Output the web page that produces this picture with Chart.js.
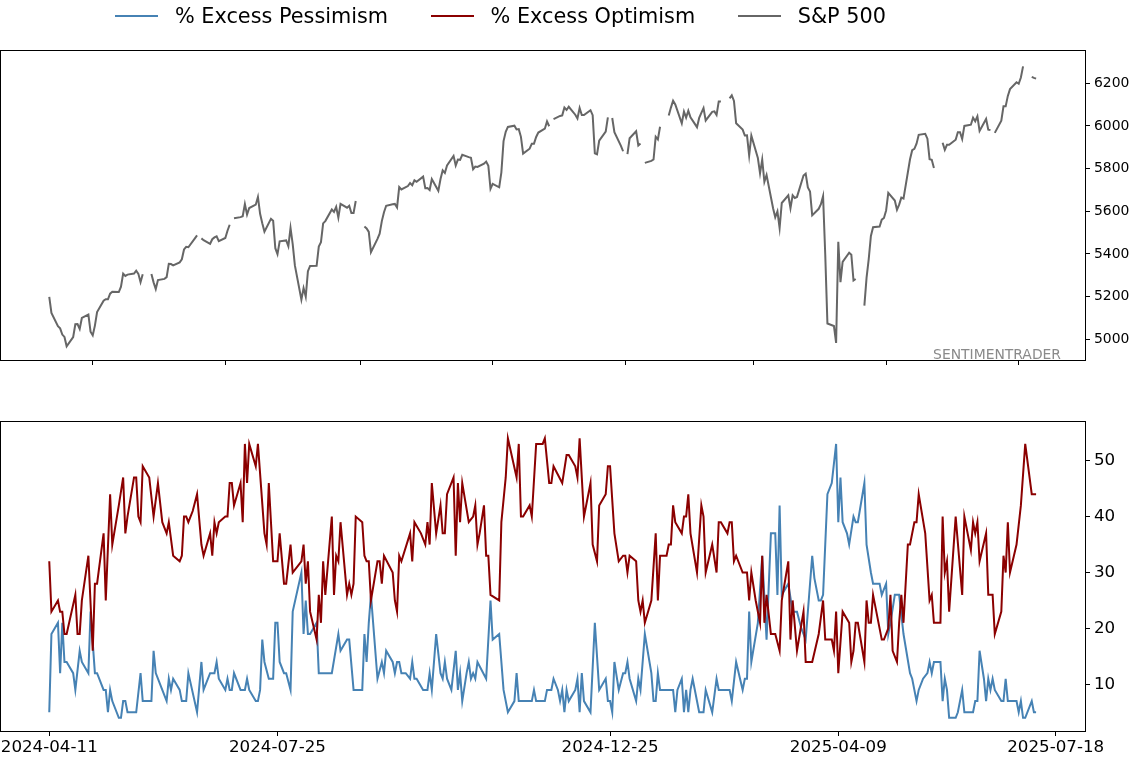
<!DOCTYPE html>
<html>
<head>
<meta charset="utf-8">
<script src="https://cdn.jsdelivr.net/npm/chart.js@4.4.1/dist/chart.umd.min.js"></script>
<style>
  html, body { margin: 0; padding: 0; background: #fff; width: 1129px; height: 759px; overflow: hidden; }
  #topWrap { position: absolute; left: 0; top: 0; width: 1129px; height: 373px; }
  #botWrap { position: absolute; left: 0; top: 380px; width: 1129px; height: 379px; }
  #legend { position: absolute; left: 115px; top: 0; height: 31.4px; display: flex; align-items: center;
            font-family: 'DejaVu Sans', sans-serif; font-size: 20.8px; line-height: 24px; color: #000; white-space: nowrap; z-index: 2; }
  #legend .item { display: flex; align-items: center; margin-right: 42.5px; }
  #legend .swatch { width: 43.3px; height: 2px; margin-right: 16.7px; }
  canvas { display: block; }
</style>
</head>
<body>
<div id="legend"></div>
<div id="topWrap"><canvas id="topChart" width="1129" height="373"></canvas></div>
<div id="botWrap"><canvas id="botChart" width="1129" height="379"></canvas></div>
<script>
// ---------------- DATA ----------------
const START_DATE = '2024-04-11';
const END_DATE = '2025-07-09';

// S&P 500 close for every weekday from START_DATE to END_DATE (null = market holiday)
const spxClose = [
  // Apr 2024
  5199.06, 5123.41, 5061.82, 5051.41, 5022.21, 5011.12, 4967.23, 5010.60, 5070.55, 5071.63, 5048.42, 5099.96, 5116.17, 5035.69,
  // May 2024
  5018.39, 5064.20, 5127.79, 5180.74, 5187.70, 5187.67, 5214.08, 5222.68, 5221.42, 5246.68, 5308.15, 5297.10, 5303.27,
  5308.13, 5321.41, 5307.01, 5267.84, 5304.72, null, 5306.04, 5266.95, 5235.48, 5277.51,
  // Jun 2024
  5283.40, 5291.34, 5354.03, 5352.96, 5346.99, 5360.79, 5375.32, 5421.03, 5433.74, 5431.60,
  5473.23, 5487.03, null, 5473.17, 5464.62, 5447.87, 5469.30, 5477.90, 5482.87, 5460.48,
  // Jul 2024
  5475.09, 5509.01, 5537.02, null, 5567.19, 5572.85, 5576.98, 5633.91, 5584.54, 5615.35, 5631.22, 5667.20,
  5588.27, 5544.59, 5505.00, 5564.41, 5555.74, 5427.13, 5399.22, 5459.10, 5463.54, 5436.44, 5522.30,
  // Aug 2024
  5446.68, 5346.56, 5186.33, 5240.03, 5199.50, 5319.31, 5344.16, 5344.39, 5434.43, 5455.21, 5543.22,
  5554.25, 5608.25, 5597.12, 5620.85, 5570.64, 5634.61, 5616.84, 5625.80, 5592.18, 5591.96, 5648.40,
  // Sep 2024
  null, 5528.93, 5520.07, 5503.41, 5408.42, 5471.05, 5495.52, 5554.13, 5595.76, 5626.02, 5633.09,
  5634.58, 5618.26, 5713.64, 5702.55, 5718.57, 5732.93, 5722.26, 5745.37, 5738.17, 5762.48,
  // Oct 2024
  5708.75, 5709.54, 5699.94, 5751.07, 5695.94, 5751.13, 5792.04, 5780.05, 5815.03, 5859.85, 5815.26, 5842.47,
  5841.47, 5864.67, 5853.98, 5851.20, 5797.42, 5809.86, 5808.12, 5823.52, 5832.92, 5813.67, 5705.45,
  // Nov 2024
  5728.80, 5712.69, 5782.76, 5929.04, 5973.10, 5995.54, 6001.35, 5983.99, 5985.38, 5949.17, 5870.62,
  5893.62, 5916.98, 5917.11, 5948.71, 5969.34, 5987.37, 6021.63, 5998.74, null, 6032.38,
  // Dec 2024
  6047.15, 6049.88, 6086.49, 6075.11, 6090.27, 6052.85, 6034.91, 6084.19, 6051.25, 6051.09, 6074.08,
  6050.61, 5872.16, 5867.08, 5930.85, 5974.07, 6040.04, null, 6037.59, 5970.84, 5906.94, 5881.63,
  // Jan 2025
  null, 5868.55, 5942.47, 5975.38, 5909.03, 5918.25, null, 5827.04, 5836.22, 5842.91, 5949.91, 5937.34,
  5996.66, null, 6049.24, 6086.37, 6118.71, 6101.24, 6012.28, 6067.70, 6039.31, 6071.17, 6040.53,
  // Feb 2025
  5994.57, 6037.88, 6061.48, 6083.57, 6025.99, 6066.44, 6068.50, 6051.97, 6115.07, 6114.63,
  null, 6129.58, 6144.15, 6117.52, 6013.13, 5983.25, 5955.25, 5956.06, 5861.57, 5954.50,
  // Mar 2025
  5849.72, 5778.15, 5842.63, 5738.52, 5770.20, 5614.56, 5572.07, 5599.30, 5521.52, 5638.94, 5675.12,
  5614.66, 5675.29, 5662.89, 5667.56, 5767.57, 5776.65, 5712.20, 5693.31, 5580.94, 5611.85,
  // Apr 2025
  5633.07, 5670.97, 5396.52, 5074.08, 5062.25, 4982.77, 5456.90, 5268.05, 5363.36, 5405.97, 5396.63,
  5275.70, 5282.70, null, 5158.20, 5287.76, 5375.86, 5484.77, 5525.21, 5528.75, 5560.83, 5569.06,
  // May 2025
  5604.14, 5686.67, 5650.38, 5606.91, 5631.28, 5663.94, 5659.91, 5844.19, 5886.55, 5892.58, 5916.93,
  5958.38, 5963.60, 5940.46, 5844.61, 5842.01, 5802.82, null, 5921.54, 5888.55, 5912.17, 5911.69,
  // Jun 2025
  5935.94, 5970.37, 5970.81, 5939.30, 6000.36, 6005.88, 6038.81, 6022.24, 6045.26, 5976.97, 6033.11,
  5982.72, 5980.87, null, 5967.84, 6025.17, 6092.18, 6092.16, 6141.02, 6173.07, 6204.95,
  // Jul 2025
  6198.01, 6227.42, 6279.35, null, 6229.98, 6225.52, 6222.00
];

// % Excess Optimism: day offsets from START_DATE and values
const optDays = [0,1,4,5,6,7,8,12,13,14,
  15,18,20,21,22,25,26,28,29,32,
  34,35,36,39,40,41,42,43,46,48,
  50,52,54,55,57,60,61,62,63,64,
  66,68,70,71,74,75,76,77,78,81,
  82,83,84,85,88,89,90,91,92,95,
  96,99,100,101,103,105,106,108,109,111,
  112,116,117,118,119,120,123,124,125,126,
  127,130,131,132,133,134,137,138,139,140,
  141,144,145,146,147,148,151,152,153,154,
  158,159,160,161,162,166,167,168,171,173,
  174,175,176,178,180,181,182,183,186,187,
  188,189,190,193,195,196,197,198,200,201,
  202,203,207,208,210,211,215,216,217,218,
  221,222,224,227,228,230,231,232,236,238,
  239,242,243,244,246,249,250,252,253,256,
  257,258,260,262,264,265,266,267,270,271,
  272,273,274,277,279,280,281,284,285,286,
  287,288,291,292,293,294,295,298,300,301,
  302,305,307,308,309,312,313,314,315,316,
  319,321,322,323,325,327,328,329,330,332,
  334,336,337,340,341,342,344,347,348,351,
  354,356,357,360,361,362,363,365,368,369,
  370,371,372,375,376,377,378,379,383,384,
  386,387,388,390,391,392,393,395,396,398,
  399,400,403,405,406,407,410,411,412,413,
  414,417,420,421,424,425,426,427,428,431,
  432,434,435,438,439,440,441,442,445,447,
  449,452,454];
const optVals = [32,23,25,23,23,19,19,26,19,19,
  25,33,16,28,28,37,25,44,35,42,
  47,37,40,47,47,40,39,49,47,40,
  46,39,37,39,33,32,33,40,40,39,
  41,44,35,33,37,33,39,37,39,40,
  40,46,46,42,46,39,53,46,53,49,
  53,37,35,46,32,32,37,28,28,35,
  30,32,35,28,32,23,18,26,21,32,
  26,40,26,33,32,39,26,28,26,28,
  40,39,33,32,32,25,32,32,28,33,
  30,25,23,33,32,37,32,39,37,35,
  39,35,46,37,42,37,37,44,47,33,
  46,39,46,39,40,42,35,37,42,33,
  33,26,25,39,47,54,47,53,40,40,
  42,40,53,53,54,46,46,49,46,51,
  51,49,47,54,40,46,35,32,42,44,
  49,49,37,32,33,33,30,33,32,25,
  23,25,21,25,37,25,33,33,35,35,
  42,39,37,40,40,44,37,30,42,40,
  30,35,30,39,39,37,39,39,32,33,
  30,30,25,30,25,21,33,21,26,19,
  19,16,25,32,18,25,16,23,14,14,
  19,25,18,18,16,23,12,23,21,14,
  16,21,21,14,25,21,21,26,18,18,
  20,26,16,14,21,26,21,35,35,39,
  39,44,37,25,26,21,21,40,30,32,
  23,40,26,40,34,39,37,39,32,37,
  26,26,19,23,33,30,39,30,35,42,
  53,44,44];

// % Excess Pessimism: day offsets from START_DATE and values
const pessDays = [0,1,4,5,6,7,8,11,12,14,
  15,18,19,21,22,25,26,27,28,29,
  32,33,34,35,36,40,42,43,47,48,
  49,52,54,55,56,57,60,61,63,64,
  68,70,71,74,76,77,78,81,82,83,
  84,85,88,90,91,92,95,96,97,98,
  99,101,103,104,105,106,108,109,111,112,
  116,117,118,119,120,123,124,130,133,134,
  137,138,140,144,145,146,147,148,151,153,
  154,155,158,159,160,161,162,164,166,167,
  168,169,172,174,175,176,178,180,181,182,
  183,185,187,188,189,190,192,193,194,195,
  196,197,201,203,204,207,209,211,214,215,
  216,222,223,224,228,229,231,232,234,235,
  236,237,238,239,242,243,244,245,246,249,
  251,253,256,257,258,259,260,262,264,265,
  266,267,270,271,272,274,277,278,279,280,
  281,287,288,289,291,292,293,294,295,296,
  299,301,302,305,307,308,313,314,316,319,
  320,321,322,323,326,328,330,332,334,335,
  336,337,340,342,344,346,348,351,352,354,
  355,356,358,360,362,363,364,365,367,368,
  370,371,372,375,376,378,379,382,383,385,
  386,387,389,391,393,396,397,399,400,402,
  404,405,406,407,410,411,412,413,414,417,
  418,420,421,425,426,427,428,430,431,432,
  433,434,435,438,439,440,441,445,446,447,
  448,449,452,453,454];
const pessVals = [5,19,21,12,21,14,14,12,9,16,
  14,12,23,12,12,9,9,5,9,7,
  4,4,7,7,5,5,12,7,7,16,
  12,9,7,11,9,11,9,7,7,12,
  5,14,9,12,12,14,11,9,11,9,
  9,12,9,9,11,9,7,7,9,18,
  14,11,11,21,21,14,12,12,9,23,
  30,19,25,19,19,21,12,12,19,16,
  18,18,9,9,19,14,21,26,11,14,
  12,16,14,12,14,14,12,12,11,14,
  11,11,9,9,12,9,19,12,11,14,
  11,9,16,9,12,7,12,14,11,12,
  11,14,11,25,18,19,9,5,7,12,
  7,7,9,7,7,9,9,11,9,7,
  9,5,9,7,9,11,5,12,7,5,
  21,9,11,7,7,5,14,9,12,12,
  14,11,7,11,9,19,12,7,7,12,
  9,9,5,9,11,5,9,5,9,11,
  5,5,9,5,11,9,9,7,14,9,
  11,11,23,14,21,33,18,37,37,26,
  42,26,28,23,23,20,18,33,29,25,
  25,26,44,46,53,39,47,39,37,35,
  40,39,39,46,35,30,28,28,26,28,
  19,21,26,26,19,12,11,7,9,11,
  12,14,12,14,14,7,11,9,4,4,
  5,9,5,5,7,7,16,11,7,11,
  9,11,9,7,7,11,7,7,5,7,
  4,4,7,5,5];

// Axis ticks
const spxTicks = [5000, 5200, 5400, 5600, 5800, 6000, 6200];
const sentTicks = [10, 20, 30, 40, 50];
const topTickDates = ['2024-05-01','2024-07-01','2024-09-01','2024-11-01','2025-01-01','2025-03-01','2025-05-01','2025-07-01'];
const bottomTickDates = ['2024-04-11','2024-07-25','2024-12-25','2025-04-09','2025-07-18'];

// ---------------- HELPERS ----------------
const START_MS = Date.parse(START_DATE + 'T00:00:00Z');
const DAY_MS = 86400000;
const isoToDay = iso => Math.round((Date.parse(iso + 'T00:00:00Z') - START_MS) / DAY_MS);
const dayToIso = d => new Date(START_MS + Math.round(d) * DAY_MS).toISOString().slice(0, 10);

const tradingDays = [];
for (let d = 0; d <= isoToDay(END_DATE); d++) {
  const dow = new Date(START_MS + d * DAY_MS).getUTCDay();
  if (dow !== 0 && dow !== 6) tradingDays.push(d);
}
const spxPoints = tradingDays.map((d, i) => ({ x: d, y: spxClose[i] === undefined ? null : spxClose[i] }));
const optPoints = optDays.map((d, i) => ({ x: d, y: optVals[i] }));
const pessPoints = pessDays.map((d, i) => ({ x: d, y: pessVals[i] }));

const X_MIN = -22.2, X_MAX = 476.5;
const FONT = "'DejaVu Sans', sans-serif";
Chart.defaults.font.family = FONT;
Chart.defaults.color = '#000';

const COLORS = { pess: '#4682b4', opt: '#8b0000', spx: '#666666' };

const framePlugin = {
  id: 'frame',
  afterDatasetsDraw(chart) {
    const { ctx, chartArea: a } = chart;
    ctx.save();
    ctx.strokeStyle = '#000';
    ctx.lineWidth = 1;
    ctx.strokeRect(a.left - 0.5, a.top - 0.5, a.right - a.left + 1, a.bottom - a.top + 1);
    ctx.restore();
  }
};
const watermarkPlugin = {
  id: 'watermark',
  afterDraw(chart) {
    const { ctx, chartArea: a } = chart;
    ctx.save();
    ctx.font = "13.9px " + FONT;
    ctx.fillStyle = '#8a8a8a';
    ctx.textAlign = 'right';
    ctx.textBaseline = 'alphabetic';
    ctx.fillText('SENTIMENTRADER', a.right - 24, a.bottom - 1.5);
    ctx.restore();
  }
};

function xAxis(tickDates, showLabels, height) {
  return {
    type: 'linear', position: 'bottom', min: X_MIN, max: X_MAX,
    grid: { display: true, drawOnChartArea: false, drawTicks: true, tickLength: 5, color: '#000', lineWidth: 1 },
    border: { display: false },
    ticks: {
      autoSkip: false, maxRotation: 0, minRotation: 0, padding: 2,
      font: { size: 16.7 }, color: '#000',
      callback: v => showLabels ? dayToIso(v) : ''
    },
    afterBuildTicks: s => { s.ticks = tickDates.map(t => ({ value: isoToDay(t) })); },
    afterFit: s => { s.height = height; s.paddingLeft = 0; s.paddingRight = 0; }
  };
}
function yAxis(min, max, ticks, fontSize) {
  return {
    type: 'linear', position: 'right', min, max,
    grid: { display: true, drawOnChartArea: false, drawTicks: true, tickLength: 5, color: '#000', lineWidth: 1 },
    border: { display: false },
    ticks: { padding: 4, font: { size: fontSize }, color: '#000', callback: v => String(v) },
    afterBuildTicks: s => { s.ticks = ticks.map(v => ({ value: v })); },
    afterFit: s => { s.width = 44; s.paddingTop = 0; s.paddingBottom = 0; }
  };
}

const topChart = new Chart(document.getElementById('topChart'), {
  type: 'line',
  data: {
    datasets: [{
      label: 'S&P 500', data: spxPoints, borderColor: COLORS.spx, backgroundColor: COLORS.spx,
      borderWidth: 2, pointRadius: 0, tension: 0, spanGaps: false, fill: false
    }]
  },
  options: {
    responsive: false, animation: false, events: [],
    layout: { padding: { top: 51, left: 1, right: 0, bottom: 0 } },
    plugins: { legend: { display: false }, tooltip: { enabled: false } },
    scales: { x: xAxis(topTickDates, false, 13), y: yAxis(4903, 6351.6, spxTicks, 13.9) }
  },
  plugins: [framePlugin, watermarkPlugin]
});

const botChart = new Chart(document.getElementById('botChart'), {
  type: 'line',
  data: {
    datasets: [
      { label: '% Excess Pessimism', data: pessPoints, borderColor: COLORS.pess, backgroundColor: COLORS.pess,
        borderWidth: 2, pointRadius: 0, tension: 0, fill: false, order: 2 },
      { label: '% Excess Optimism', data: optPoints, borderColor: COLORS.opt, backgroundColor: COLORS.opt,
        borderWidth: 2, pointRadius: 0, tension: 0, fill: false, order: 1 }
    ]
  },
  options: {
    responsive: false, animation: false, events: [],
    layout: { padding: { top: 42, left: 1, right: 0, bottom: 0 } },
    plugins: { legend: { display: false }, tooltip: { enabled: false } },
    scales: { x: xAxis(bottomTickDates, true, 28), y: yAxis(1.65, 56.92, sentTicks, 16.7) }
  },
  plugins: [framePlugin]
});

// HTML legend built from the charts' datasets
const legendEl = document.getElementById('legend');
[...botChart.data.datasets, ...topChart.data.datasets].forEach(ds => {
  const item = document.createElement('div');
  item.className = 'item';
  const sw = document.createElement('span');
  sw.className = 'swatch';
  sw.style.background = ds.borderColor;
  const txt = document.createElement('span');
  txt.textContent = ds.label;
  item.appendChild(sw);
  item.appendChild(txt);
  legendEl.appendChild(item);
});
</script>
</body>
</html>
